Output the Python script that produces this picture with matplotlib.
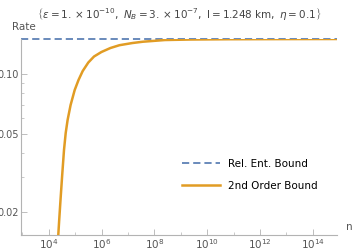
import numpy as np
import matplotlib
matplotlib.use("Agg")
import matplotlib.pyplot as plt
from matplotlib.ticker import FixedLocator, NullFormatter

# (log10 of n, rate)
log_n = [4.352, 4.3636, 4.3977, 4.447, 4.5114, 4.5795, 4.6439, 4.7159, 4.8295, 4.9848,
         5.1288, 5.2879, 5.5, 5.7159, 5.9962, 6.3371, 6.678, 7.1705, 7.5644,
         8.4053, 9.352, 10.867, 13.14, 15.03]
rate_2nd = [0.01454, 0.0154, 0.01827, 0.02307, 0.03091, 0.04135, 0.05043, 0.0587, 0.06991, 0.08329,
            0.09357, 0.10392, 0.11476, 0.12307, 0.12972, 0.13592, 0.14044, 0.14407, 0.14626,
            0.1492, 0.15006, 0.15059, 0.15085, 0.151]
rel_ent_bound = 0.1510

x_ticks = [1e4, 1e6, 1e8, 1e10, 1e12, 1e14]
x_ticklabels = ["$10^{4}$", "$10^{6}$", "$10^{8}$", "$10^{10}$", "$10^{12}$", "$10^{14}$"]
y_ticks = [0.02, 0.05, 0.10]
y_ticklabels = ["0.02", "0.05", "0.10"]

blue = "#5E81B5"
orange = "#E19C24"
axis_gray = "#b3b3b3"
text_gray = "#555555"

plt.rcParams["mathtext.fontset"] = "dejavusans"

fig = plt.figure(figsize=(3.53, 2.52), dpi=100)
ax = fig.add_axes([21.3 / 353, 1 - 234.7 / 252, (336.7 - 21.3) / 353, (234.7 - 39) / 252])

n = 10 ** np.array(log_n)
ax.plot([10 ** 2.962, 10 ** 14.909], [rel_ent_bound, rel_ent_bound], color=blue,
        linestyle=(0, (4, 2.2)), linewidth=1.3, clip_on=False, label="Rel. Ent. Bound")
ax.plot(n, rate_2nd, color=orange, linewidth=1.8, label="2nd Order Bound", zorder=3)

ax.set_xscale("log")
ax.set_yscale("log")
ax.set_xlim(10 ** 2.962, 10 ** 14.909)
ax.set_ylim(0.01539, rel_ent_bound)

ax.xaxis.set_major_locator(FixedLocator(x_ticks))
ax.set_xticklabels(x_ticklabels)
ax.xaxis.set_minor_locator(FixedLocator([1e3, 1e5, 1e7, 1e9, 1e11, 1e13]))
ax.xaxis.set_minor_formatter(NullFormatter())
ax.yaxis.set_major_locator(FixedLocator(y_ticks))
ax.set_yticklabels(y_ticklabels)
ax.yaxis.set_minor_locator(FixedLocator([0.03, 0.04, 0.06, 0.07, 0.08, 0.09]))
ax.yaxis.set_minor_formatter(NullFormatter())

ax.tick_params(which="major", direction="in", length=4, width=0.6, color=axis_gray,
               labelsize=7, labelcolor=text_gray, pad=1.5)
ax.tick_params(axis="x", which="major", labelsize=7.5, pad=2)
ax.tick_params(which="minor", direction="in", length=2, width=0.5, color=axis_gray)

for side in ["top", "right"]:
    ax.spines[side].set_visible(False)
for side in ["left", "bottom"]:
    ax.spines[side].set_color(axis_gray)
    ax.spines[side].set_linewidth(0.8)

fig.text(12 / 353, 1 - 27 / 252, "Rate", fontsize=7.5, color=text_gray, va="center", ha="left")
fig.text(349 / 353, 1 - 227 / 252, "n", fontsize=7.5, color=text_gray, va="center", ha="center")

fig.text(179 / 353, 1 - 14 / 252,
         r"$\left\{\epsilon = 1.\times 10^{-10},\ N_B = 3.\times 10^{-7},\ \mathrm{l} = 1.248\ \mathrm{km},\ \eta = 0.1\right\}$",
         fontsize=7.5, color="#444444", ha="center", va="center")

ax.legend(loc="lower left", bbox_to_anchor=(173 / 353, 1 - 200 / 252), bbox_transform=fig.transFigure,
          frameon=False, fontsize=7.5, handlelength=3.6, handletextpad=0.8, labelspacing=1.15)

fig.savefig("out.png", dpi=100)
